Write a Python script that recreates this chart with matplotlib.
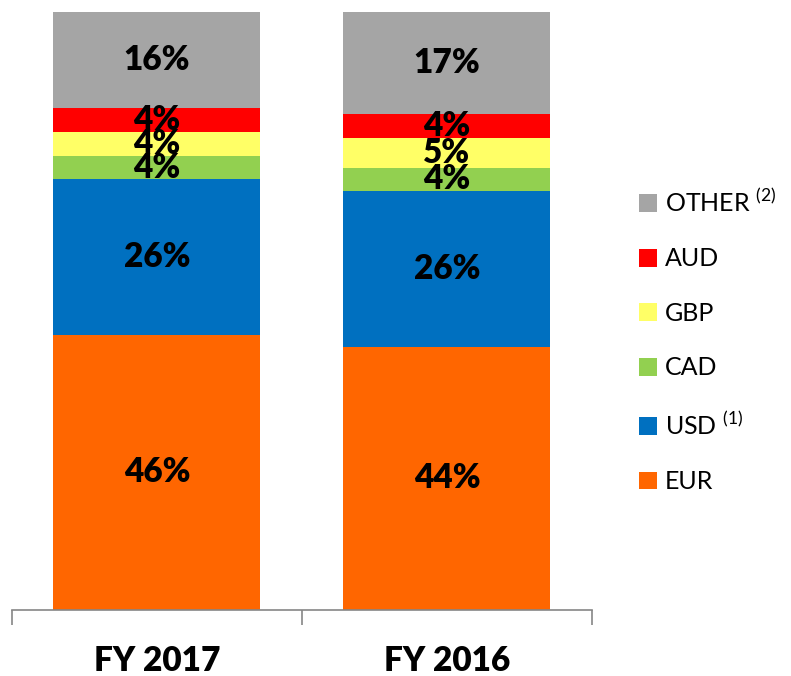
import matplotlib
matplotlib.use("Agg")
import matplotlib.pyplot as plt
from matplotlib.patches import Patch

plt.rcParams['font.family'] = ['Lato', 'DejaVu Sans']

years = ["FY 2017", "FY 2016"]
currencies = ["EUR", "USD", "CAD", "GBP", "AUD", "OTHER"]
legend_labels = ["EUR", "USD $^{\\mathregular{(1)}}$", "CAD", "GBP", "AUD", "OTHER $^{\\mathregular{(2)}}$"]
colors = ["#FF6600", "#0070C0", "#92D050", "#FFFF66", "#FF0000", "#A5A5A5"]
shares = {
    "EUR": [46, 44],
    "USD": [26, 26],
    "CAD": [4, 4],
    "GBP": [4, 5],
    "AUD": [4, 4],
    "OTHER": [16, 17],
}

fig = plt.figure(figsize=(7.91, 6.76), dpi=100)
ax = fig.add_axes([0.0152, 0.0976, 0.7330, 0.8846])

x = range(len(years))
bottom = [0, 0]
for cur, col in zip(currencies, colors):
    vals = shares[cur]
    ax.bar(x, vals, bottom=bottom, width=0.714, color=col, edgecolor="none")
    for i, v in enumerate(vals):
        ax.text(i, bottom[i] + v / 2, f"{v}%", ha="center", va="center",
                fontsize=24, fontweight="heavy", color="black")
    bottom = [b + v for b, v in zip(bottom, vals)]

ax.set_xlim(-0.5, 1.5)
ax.set_ylim(0, 100)
ax.set_yticks([])
for s in ["top", "right", "left"]:
    ax.spines[s].set_visible(False)
ax.spines["bottom"].set_color("#868686")
ax.spines["bottom"].set_linewidth(1.2)

ax.set_xticks([-0.5, 0.5, 1.5])
ax.set_xticklabels([])
ax.tick_params(axis="x", which="major", length=11, width=1.2, color="#868686", direction="out")
ax.set_xticks(list(x), minor=True)
ax.set_xticklabels(years, minor=True, fontsize=24, fontweight="heavy")
ax.tick_params(axis="x", which="minor", length=0, pad=25)

handles = [Patch(facecolor=c, edgecolor="none") for c in colors]
fig.legend(handles[::-1], legend_labels[::-1], loc="center left",
           bbox_to_anchor=(0.795, 0.496), frameon=False, fontsize=18,
           labelspacing=1.26, handlelength=0.72, handleheight=0.72,
           handletextpad=0.33, borderaxespad=0)

fig.savefig("out.png", dpi=100)
